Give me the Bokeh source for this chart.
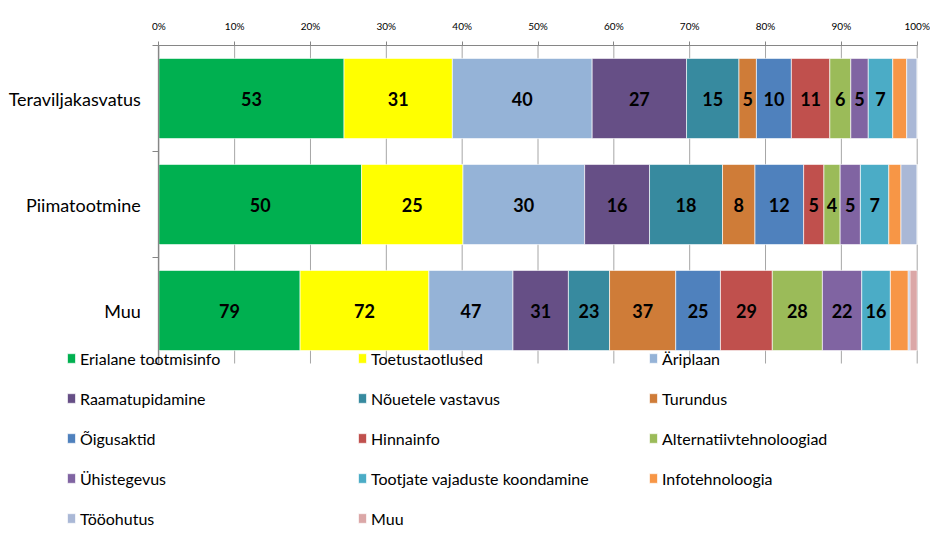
from bokeh.plotting import figure
from bokeh.models import (ColumnDataSource, Range1d, FixedTicker, Legend, LegendItem,
                          LinearAxis)
from bokeh.embed import file_html
from bokeh.resources import INLINE
from bokeh.core.properties import value

# Categories from bottom to top
categories = ["Muu", "Piimatootmine", "Teraviljakasvatus"]

series_names = [
    "Erialane tootmisinfo", "Toetustaotlused", "Äriplaan",
    "Raamatupidamine", "Nõuetele vastavus", "Turundus",
    "Õigusaktid", "Hinnainfo", "Alternatiivtehnoloogiad",
    "Ühistegevus", "Tootjate vajaduste koondamine", "Infotehnoloogia",
    "Tööohutus", "Muu",
]

# counts per category (Muu, Piimatootmine, Teraviljakasvatus)
erialane = [79, 50, 53]
toetus = [72, 25, 31]
ariplaan = [47, 30, 40]
raamatupidamine = [31, 16, 27]
nouetele = [23, 18, 15]
turundus = [37, 8, 5]
oigusaktid = [25, 12, 10]
hinnainfo = [29, 5, 11]
alternatiiv = [28, 4, 6]
yhistegevus = [22, 5, 5]
tootjate = [16, 7, 7]
infotehnoloogia = [10, 3, 4]
tooohutus = [1, 4, 3]
muu = [4, 0, 0]

series_values = [erialane, toetus, ariplaan, raamatupidamine, nouetele, turundus,
                 oigusaktid, hinnainfo, alternatiiv, yhistegevus, tootjate,
                 infotehnoloogia, tooohutus, muu]
show_labels = [True] * 11 + [False] * 3

colors = ["#00B050", "#FFFF00", "#95B3D7", "#664F86", "#378A9F", "#CF7C38",
          "#4F81BD", "#C0504D", "#9BBB59", "#8064A2", "#4BACC6", "#F79646",
          "#AAB8D6", "#DBA7A7"]

tick_values = [0, 10, 20, 30, 40, 50, 60, 70, 80, 90, 100]
tick_labels = ["0%", "10%", "20%", "30%", "40%", "50%", "60%", "70%", "80%", "90%", "100%"]

FONT = "Lato"

# ---- layout (pixels) ----
W, H = 930, 550
PX_LEFT, PX_RIGHT = 158.3, 916.7      # 0% and 100% positions
PX_TOP, ROW_PX = 45.0, 106.0          # top of first row, row pitch
ncat = len(categories)
sx = (PX_RIGHT - PX_LEFT) / 100.0
x_start = -PX_LEFT / sx
x_end = 100 + (W - PX_RIGHT) / sx
y_end = ncat + PX_TOP / ROW_PX
y_start = y_end - H / ROW_PX

# Build percentage table
ypos = [i + 0.5 for i in range(ncat)]
totals = [sum(s[r] for s in series_values) for r in range(ncat)]
data = {"y": ypos}
keys = []
for k, s in enumerate(series_values):
    key = f"s{k}"
    keys.append(key)
    data[key] = [s[r] / totals[r] * 100 for r in range(ncat)]
src = ColumnDataSource(data)

p = figure(width=W, height=H, x_range=Range1d(x_start, x_end), y_range=Range1d(y_start, y_end),
           x_axis_location=None, y_axis_location=None, output_backend="svg",
           toolbar_location=None, min_border=0)
p.outline_line_color = None
p.background_fill_color = "white"
p.border_fill_color = "white"
p.grid.visible = False

# vertical gridlines over the category band
p.segment(x0=tick_values, y0=[0] * len(tick_values), x1=tick_values, y1=[ncat] * len(tick_values),
          line_color="#a6a6a6", line_width=1)

renderers = p.hbar_stack(keys, y="y", height=0.757, color=colors, source=src,
                         line_color="white", line_width=0.8, line_alpha=0.8)

# Labels
lx, ly, lt = [], [], []
for r in range(ncat):
    cum = 0.0
    for s, show in zip(series_values, show_labels):
        pct = s[r] / totals[r] * 100
        if show and s[r] > 0:
            lx.append(cum + pct / 2)
            ly.append(ypos[r])
            lt.append(str(s[r]))
        cum += pct
lab_src = ColumnDataSource(dict(x=lx, y=ly, t=lt))
p.text(x="x", y="y", text="t", source=lab_src, text_align="center", text_baseline="middle",
       text_font=value(FONT), text_font_style="bold", text_font_size="18px", text_color="black")

# x axis (top), fixed at the top of the category band
xa = LinearAxis(fixed_location=ncat, bounds=(0, 100), ticker=FixedTicker(ticks=tick_values))
xa.major_label_overrides = {v: l for v, l in zip(tick_values, tick_labels)}
xa.major_tick_in = 0
xa.major_tick_out = 4
xa.minor_tick_line_color = None
xa.axis_line_color = "#868686"
xa.major_tick_line_color = "#868686"
xa.major_label_text_font = FONT
xa.major_label_text_font_size = "10px"
xa.major_label_text_color = "black"
xa.major_label_standoff = 10
p.add_layout(xa, "above")

# y axis (left), fixed at 0%
ya = LinearAxis(fixed_location=0, bounds=(0, ncat),
                ticker=FixedTicker(ticks=ypos, minor_ticks=list(range(ncat + 1))))
ya.major_label_overrides = {v: c for v, c in zip(ypos, categories)}
ya.major_tick_in = 0
ya.major_tick_out = 0
ya.minor_tick_in = 0
ya.minor_tick_out = 6
ya.axis_line_color = "#868686"
ya.axis_line_width = 1.3
ya.minor_tick_line_color = "#868686"
ya.major_label_text_font = FONT
ya.major_label_text_font_size = "18px"
ya.major_label_text_color = "black"
ya.major_label_standoff = 12
p.add_layout(ya, "left")

items = [LegendItem(label=n, renderers=[r]) for n, r in zip(series_names, renderers)]
legend = Legend(items=items, ncols=3, orientation="horizontal", location=(66, 22),
                padding=0, margin=0, spacing=20, glyph_width=10, glyph_height=12,
                label_standoff=4, label_width=257, label_height=20,
                label_text_font=FONT, label_text_font_size="16px", label_text_color="black",
                border_line_color=None, background_fill_alpha=0)
p.add_layout(legend, "center")

open("out.html", "w").write(file_html(p, INLINE))
